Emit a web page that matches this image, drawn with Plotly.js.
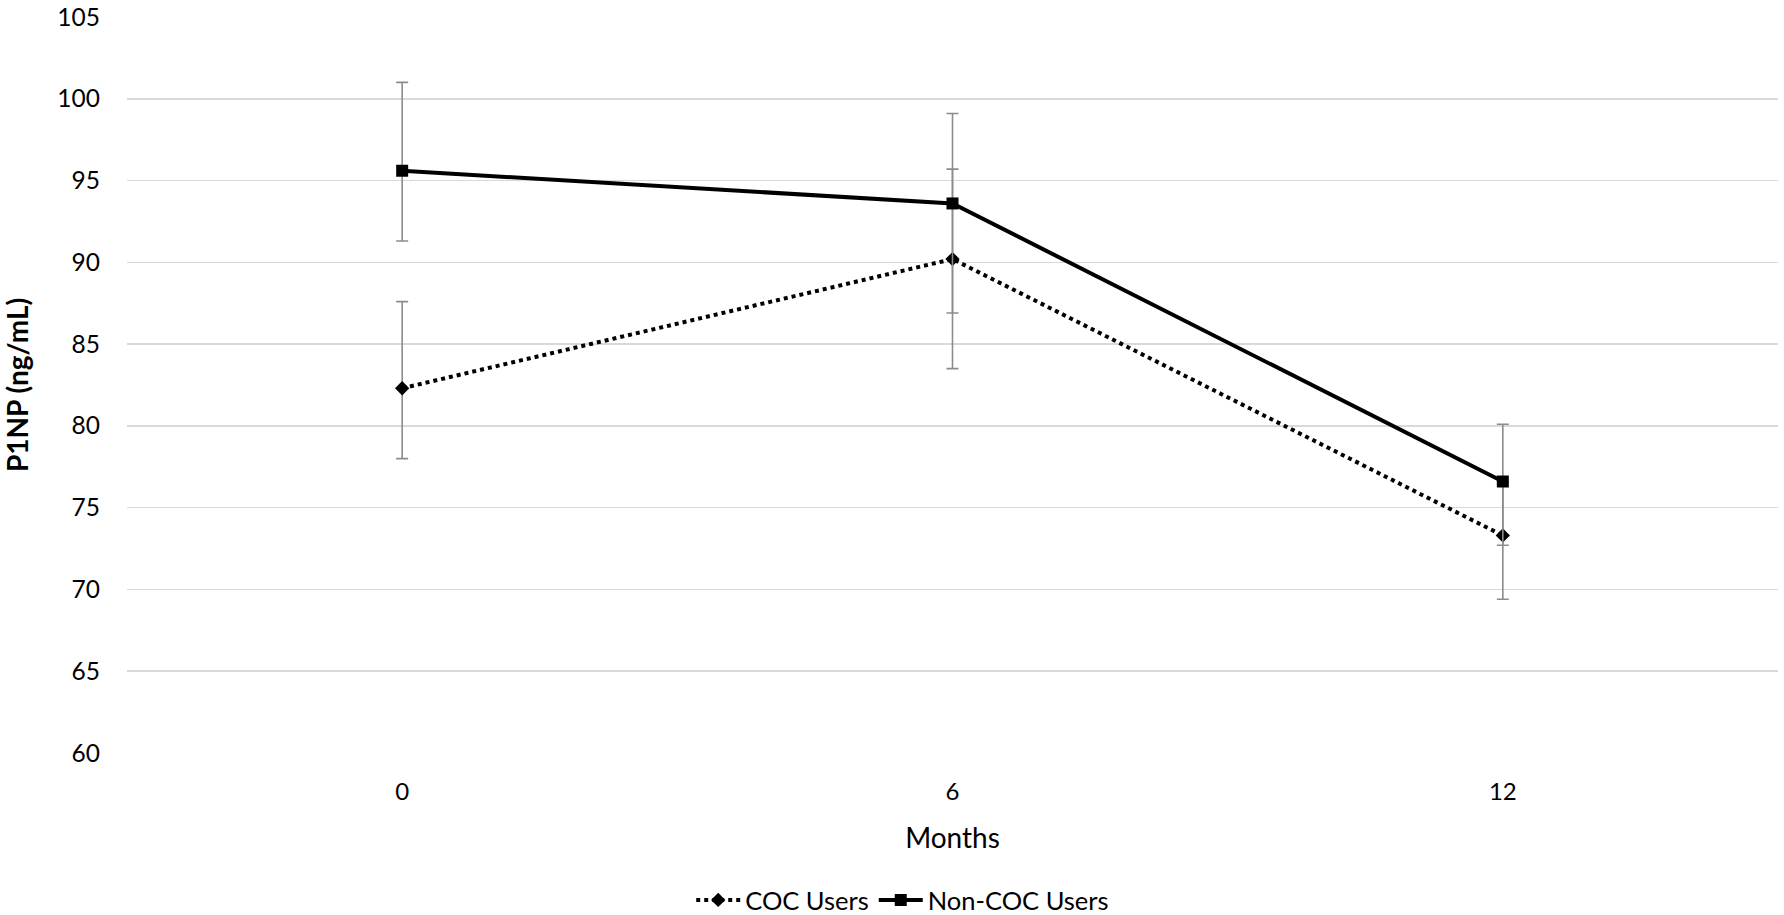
<!DOCTYPE html>
<html>
<head>
<meta charset="utf-8">
<script src="https://cdn.plot.ly/plotly-3.0.1.min.js"></script>
<style>html,body{margin:0;padding:0;background:#fff;}#chart{width:1784px;height:915px;}</style>
</head>
<body>
<div id="chart"></div>
<script>
// Data
const months = ["0", "6", "12"];

const cocName = "COC Users";
const cocValues = [82.3, 90.2, 73.3];
const cocErrPlus = [5.3, 5.5, 3.3];
const cocErrMinus = [4.3, 6.7, 3.9];

const nonCocName = "Non-COC Users";
const nonCocValues = [95.6, 93.6, 76.6];
const nonCocErrPlus = [5.4, 5.5, 3.5];
const nonCocErrMinus = [4.3, 6.7, 3.9];

const yTicks = [60, 65, 70, 75, 80, 85, 90, 95, 100, 105];

const FONT = "Lato, 'Open Sans', sans-serif";
const errStyle = {type: "data", symmetric: false, color: "#8c8c8c", thickness: 1.6, width: 6};

const traces = [
  {
    x: months, y: cocValues, name: cocName, type: "scatter", mode: "lines+markers",
    line: {color: "#000000", width: 4, dash: "dot"},
    marker: {symbol: "diamond", size: 11, color: "#000000"},
    error_y: Object.assign({array: cocErrPlus, arrayminus: cocErrMinus}, errStyle)
  },
  {
    x: months, y: nonCocValues, name: nonCocName, type: "scatter", mode: "lines+markers",
    line: {color: "#000000", width: 4},
    marker: {symbol: "square", size: 12, color: "#000000"},
    error_y: Object.assign({array: nonCocErrPlus, arrayminus: nonCocErrMinus}, errStyle)
  }
];

const layout = {
  width: 1784, height: 915,
  margin: {l: 127, r: 6, t: 17, b: 162},
  paper_bgcolor: "#ffffff", plot_bgcolor: "#ffffff",
  font: {family: FONT, size: 24, color: "#000000"},
  showlegend: true,
  legend: {
    orientation: "h", xref: "container", yref: "container",
    x: 0.506, xanchor: "center", y: 0.016, yanchor: "middle",
    font: {family: FONT, size: 25.5, color: "#000000"},
    itemwidth: 44, tracegroupgap: 0
  },
  xaxis: {
    type: "category", range: [-0.5, 2.5],
    showgrid: false, zeroline: false, showline: false, ticks: "",
    ticklabelstandoff: 22,
    tickfont: {family: FONT, size: 24, color: "#000000"},
    title: {text: "Months", font: {family: FONT, size: 28, color: "#000000"}, standoff: 24}
  },
  yaxis: {
    range: [60, 105], tickvals: yTicks, ticktext: yTicks.map(String),
    showgrid: true, gridcolor: "#d9d9d9", gridwidth: 1.5,
    zeroline: false, showline: false, ticks: "",
    ticklabelstandoff: 26,
    tickfont: {family: FONT, size: 24.5, color: "#000000"},
    title: {text: "P1NP (ng/mL)", font: {family: FONT, size: 28, color: "#000000", weight: "bold"}, standoff: 20}
  }
};

Plotly.newPlot("chart", traces, layout, {displayModeBar: false, staticPlot: true});
</script>
</body>
</html>
